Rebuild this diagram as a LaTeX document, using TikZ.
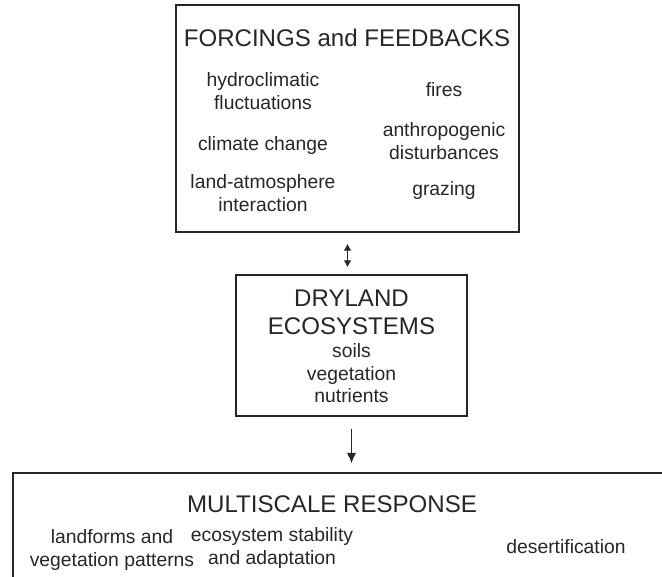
\documentclass[tikz,border=0pt]{standalone}
\usepackage{fontspec}
\setmainfont{Liberation Sans}
\usetikzlibrary{positioning,arrows.meta}

\begin{document}
\begin{tikzpicture}[x=0.02cm,y=-0.02cm,>={Latex[length=6pt,width=5.4pt]},
		box/.style={draw=black!85,line width=0.8pt,inner sep=0pt},
		heading/.style={text=black!85,font=\fontsize{13.7}{15.9}\selectfont,align=center},
		item/.style={text=black!85,font=\fontsize{11}{13}\selectfont,align=center},
		link/.style={draw=black!85,line width=0.8pt}]
		\useasboundingbox (0,0) rectangle (662,576);
		\clip (0,0) rectangle (662,576);

		% boxes
		\node[box,minimum width=6.86cm,minimum height=4.54cm]	(forcing)	at (347.5,118.5)	{};
		\node[box,minimum width=4.62cm,minimum height=2.82cm]	(dryland)	at (351.5,345.5)	{};
		\node[box,minimum width=13.74cm,minimum height=2.94cm]	(response)	at (356.5,546.5)	{};

		% forcings and feedbacks
		\node[heading]	(forcingtitle)	at (347,38)		{FORCINGS and FEEDBACKS};
		\node[item]		(hydro)			at (263,91)		{hydroclimatic\\fluctuations};
		\node[item]		(climate)		at (263,145)	{climate change};
		\node[item]		(landatm)		at (263,193)	{land-atmosphere\\interaction};
		\node[item]		(fires)			at (444,90)		{fires};
		\node[item]		(anthro)		at (444,141)	{anthropogenic\\disturbances};
		\node[item]		(grazing)		at (444,190)	{grazing};

		% dryland ecosystems
		\node[heading]	(drytitle)		at (351.5,312)	{DRYLAND\\ECOSYSTEMS};
		\node[item,below=-2pt of drytitle]	(dryitems)	{soils\\vegetation\\nutrients};

		% multiscale response
		\node[heading]	(resptitle)		at (332,504)	{MULTISCALE RESPONSE};
		\node[item]		(landforms)		at (112,550)	{landforms and\\vegetation patterns};
		\node[item]		(stability)		at (272,548)	{ecosystem stability\\and adaptation};
		\node[item]		(desert)		at (566,547)	{desertification};

		\draw[link,{Latex[length=4pt,width=4.6pt]}-{Latex[length=4pt,width=4.6pt]},shorten <=0.22cm,shorten >=0.14cm] (forcing.south) -- (forcing.south |- dryland.north);
		\draw[link,->,shorten <=0.24cm,shorten >=0.18cm] (dryland.south) -- (dryland.south |- response.north);
	\end{tikzpicture}
\end{document}
